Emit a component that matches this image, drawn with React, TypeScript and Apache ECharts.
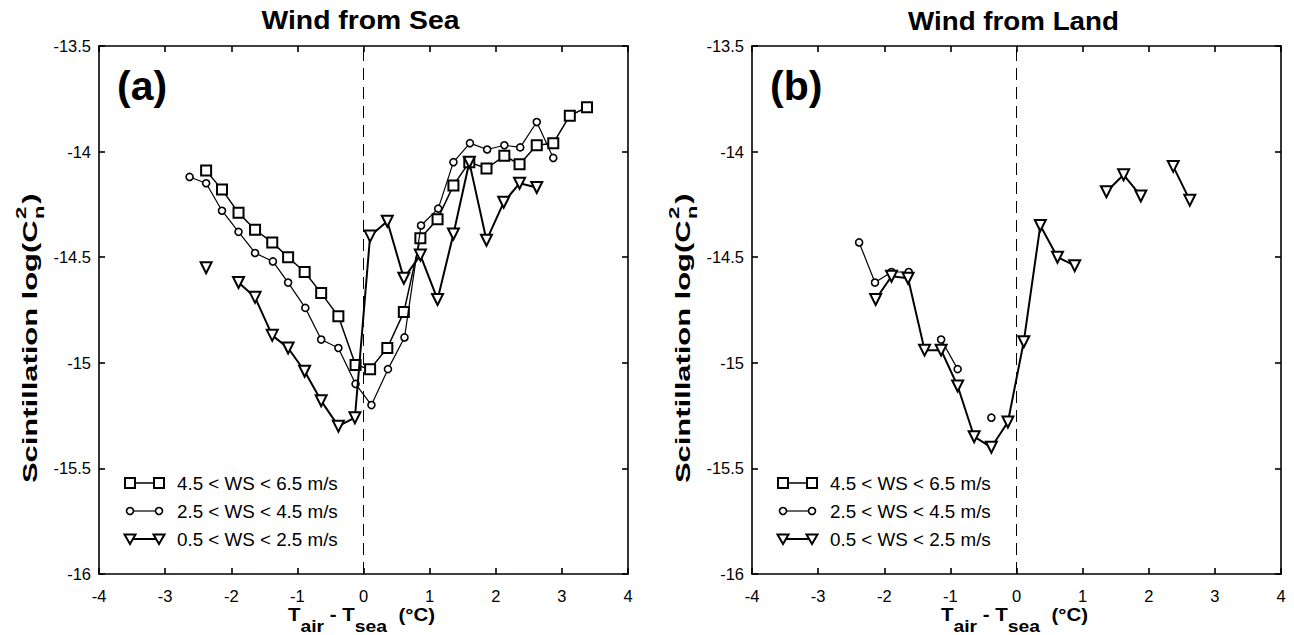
import React, { useEffect, useRef } from "react";
import * as echarts from "echarts";

const FONT = "'Liberation Sans', Arial, Helvetica, sans-serif";

// ---------- data ----------
const panelTitles = ["Wind from Sea", "Wind from Land"];
const panelTags = ["(a)", "(b)"];
const legendLabels = ["4.5 < WS < 6.5 m/s", "2.5 < WS < 4.5 m/s", "0.5 < WS < 2.5 m/s"];
const xRange = [-4, 4];
const yRange = [-16, -13.5];
const zeroLineX = 0;

// (a) Wind from Sea
const seaSquareX = [-2.38, -2.14, -1.89, -1.64, -1.38, -1.14, -0.89, -0.64, -0.38, -0.12, 0.1, 0.36, 0.61, 0.86, 1.12, 1.36, 1.6, 1.86, 2.13, 2.36, 2.62, 2.87, 3.12, 3.38];
const seaSquareY = [-14.09, -14.18, -14.29, -14.37, -14.43, -14.5, -14.57, -14.67, -14.78, -15.01, -15.03, -14.93, -14.76, -14.41, -14.32, -14.16, -14.05, -14.08, -14.02, -14.06, -13.97, -13.96, -13.83, -13.79];

const seaCircleX = [-2.63, -2.38, -2.14, -1.89, -1.64, -1.37, -1.14, -0.88, -0.64, -0.38, -0.12, 0.12, 0.37, 0.62, 0.87, 1.13, 1.36, 1.61, 1.87, 2.13, 2.37, 2.62, 2.87];
const seaCircleY = [-14.12, -14.15, -14.28, -14.38, -14.48, -14.52, -14.62, -14.74, -14.89, -14.93, -15.1, -15.2, -15.03, -14.88, -14.35, -14.27, -14.05, -13.96, -13.99, -13.97, -13.98, -13.86, -14.03];

const seaTriangleX = [-2.38, -2.13, -1.89, -1.64, -1.38, -1.14, -0.89, -0.64, -0.38, -0.13, 0.1, 0.36, 0.61, 0.86, 1.12, 1.36, 1.6, 1.86, 2.12, 2.36, 2.62];
const seaTriangleY = [-14.55, null, -14.62, -14.69, -14.87, -14.93, -15.04, -15.18, -15.3, -15.26, -14.4, -14.33, -14.6, -14.49, -14.7, -14.39, -14.05, -14.42, -14.24, -14.15, -14.17];

// (b) Wind from Land
const landSquareX: number[] = [];
const landSquareY: number[] = [];

const landCircleX = [-2.38, -2.14, -1.89, -1.63, -1.39, -1.14, -0.89, -0.64, -0.38];
const landCircleY = [-14.43, -14.62, -14.57, -14.57, null, -14.89, -15.03, null, -15.26];

const landTriangleX = [-2.13, -1.89, -1.64, -1.39, -1.14, -0.89, -0.64, -0.38, -0.13, 0.11, 0.36, 0.62, 0.88, 1.12, 1.36, 1.62, 1.88, 2.12, 2.37, 2.62];
const landTriangleY = [-14.7, -14.59, -14.6, -14.94, -14.94, -15.11, -15.35, -15.4, -15.28, -14.9, -14.35, -14.5, -14.54, null, -14.19, -14.11, -14.21, null, -14.07, -14.23];

// ---------- layout ----------
const GRIDS = [
  { left: 99, top: 46, width: 529, height: 528 },
  { left: 752, top: 46, width: 529, height: 528 },
];

const SYMBOLS = [
  { symbol: "rect", size: 10, rotate: 0, lineWidth: 1.5, border: 2 },
  { symbol: "circle", size: 7, rotate: 0, lineWidth: 1.2, border: 1.6 },
  { symbol: "triangle", size: 11, rotate: 180, lineWidth: 2, border: 2 },
];

function pairs(xs: number[], ys: (number | null)[]) {
  return xs.map((x, i) => [x, ys[i] == null ? "-" : ys[i]]);
}

let measureCtx: CanvasRenderingContext2D | null = null;
function measure(text: string, size: number, weight: string) {
  if (!measureCtx) measureCtx = document.createElement("canvas").getContext("2d");
  measureCtx!.font = `${weight} ${size}px ${FONT}`;
  return measureCtx!.measureText(text).width;
}

function txt(x: number, y: number, text: string, size: number, weight: string, align = "left", extra: any = {}) {
  return {
    type: "text",
    x,
    y,
    ...extra,
    style: {
      text,
      fontSize: size,
      fontWeight: weight,
      fontFamily: FONT,
      fill: "#000",
      align,
      verticalAlign: "middle",
    },
  };
}

function xNameGraphic(cx: number, cy: number) {
  const M = 18, S = 17, W = "bold";
  const parts = [
    { t: "T", sub: false },
    { t: "air", sub: true },
    { t: " - T", sub: false },
    { t: "sea", sub: true },
    { t: "  (\u00B0C)", sub: false },
  ];
  const widths = parts.map((p) => measure(p.t, p.sub ? S : M, W));
  const total = widths.reduce((a, b) => a + b, 0);
  const sx = 147 / total;
  let x = -total / 2;
  const children: any[] = [];
  parts.forEach((p, i) => {
    children.push(txt(x, p.sub ? 11 : 0, p.t, p.sub ? S : M, W));
    x += widths[i];
  });
  return { type: "group", x: cx, y: cy, scaleX: sx, children };
}

function yNameGraphic(cx: number, cy: number) {
  const M = 21, S = 15, W = "bold";
  const main = "Scintillation log(C";
  const wMain = measure(main, M, W);
  const wSup = measure("2", S, W);
  const wClose = measure(")", M, W);
  const total = wMain + wSup + 2 + wClose;
  const sx = 288 / total;
  const x0 = -total / 2;
  const children = [
    txt(x0, 0, main, M, W),
    txt(x0 + wMain + 1, -9, "2", S, W),
    txt(x0 + wMain + 1, 9, "n", S, W),
    txt(x0 + wMain + wSup + 3, 0, ")", M, W),
  ];
  return { type: "group", x: cx, y: cy, rotation: Math.PI / 2, scaleX: sx, children };
}

function titleGraphic(cx: number, cy: number, text: string, targetWidth: number) {
  const size = 25;
  const w = measure(text, size, "bold");
  return txt(cx, cy, text, size, "bold", "center", { scaleX: targetWidth / w });
}

function legendGraphic(x0: number, y0: number) {
  const out: any[] = [];
  const xa = x0, xb = x0 + 29, xt = x0 + 47;
  legendLabels.forEach((label, i) => {
    const y = y0 + i * 28;
    const sym = SYMBOLS[i];
    out.push({
      type: "line",
      shape: { x1: xa, y1: y, x2: xb, y2: y },
      style: { stroke: "#000", lineWidth: sym.lineWidth },
    });
    [xa, xb].forEach((cx) => {
      const st = { fill: "#fff", stroke: "#000", lineWidth: sym.border };
      if (sym.symbol === "rect")
        out.push({ type: "rect", shape: { x: cx - 5, y: y - 5, width: 10, height: 10 }, style: st });
      else if (sym.symbol === "circle")
        out.push({ type: "circle", shape: { cx, cy: y, r: 3.5 }, style: st });
      else
        out.push({
          type: "polygon",
          shape: { points: [[cx - 5.5, y - 4.5], [cx + 5.5, y - 4.5], [cx, y + 5]] },
          style: st,
        });
    });
    out.push(txt(xt, y, label, 18.8, "normal"));
  });
  return out;
}

export default function App() {
  const ref = useRef<HTMLDivElement>(null);

  useEffect(() => {
    if (!ref.current) return;
    const chart = echarts.init(ref.current, null, { renderer: "svg" });

    const axisLine = { show: true, onZero: false, lineStyle: { color: "#000", width: 1.6 } };
    const axisTick = { show: true, inside: true, length: 6, lineStyle: { color: "#000", width: 1.6 } };
    const labelStyle = { color: "#000", fontSize: 16.5, fontFamily: FONT };

    const xAxis: any[] = [];
    const yAxis: any[] = [];
    GRIDS.forEach((_, g) => {
      xAxis.push({
        type: "value", gridIndex: g, position: "bottom", min: xRange[0], max: xRange[1], interval: 1,
        axisLine, axisTick, splitLine: { show: false },
        axisLabel: { ...labelStyle, margin: 13 },
      });
      xAxis.push({
        type: "value", gridIndex: g, position: "top", min: xRange[0], max: xRange[1], interval: 1,
        axisLine, axisTick, splitLine: { show: false }, axisLabel: { show: false },
      });
      yAxis.push({
        type: "value", gridIndex: g, position: "left", min: yRange[0], max: yRange[1], interval: 0.5,
        axisLine, axisTick, splitLine: { show: false },
        axisLabel: { ...labelStyle, margin: 8, formatter: (v: number) => String(v) },
      });
      yAxis.push({
        type: "value", gridIndex: g, position: "right", min: yRange[0], max: yRange[1], interval: 0.5,
        axisLine, axisTick, splitLine: { show: false }, axisLabel: { show: false },
      });
    });

    const panels = [
      [pairs(seaSquareX, seaSquareY), pairs(seaCircleX, seaCircleY), pairs(seaTriangleX, seaTriangleY)],
      [pairs(landSquareX, landSquareY), pairs(landCircleX, landCircleY), pairs(landTriangleX, landTriangleY)],
    ];

    const series: any[] = [];
    panels.forEach((sets, g) => {
      [2, 1, 0].forEach((k) => {
        const sym = SYMBOLS[k];
        series.push({
          type: "line",
          name: legendLabels[k] + g,
          xAxisIndex: g * 2,
          yAxisIndex: g * 2,
          data: sets[k],
          connectNulls: false,
          symbol: sym.symbol,
          symbolSize: sym.size,
          symbolRotate: sym.rotate,
          showSymbol: true,
          lineStyle: { color: "#000", width: sym.lineWidth },
          itemStyle: { color: "#fff", borderColor: "#000", borderWidth: sym.border },
          z: 3 + k,
          silent: true,
          markLine:
            k === 0
              ? {
                  silent: true,
                  symbol: ["none", "none"],
                  label: { show: false },
                  lineStyle: { color: "#000", width: 1, type: [12, 7] },
                  emphasis: { disabled: true },
                  data: [{ xAxis: zeroLineX }],
                }
              : undefined,
        });
      });
    });

    const titleWidths = [198, 211];
    const graphic: any[] = [];
    GRIDS.forEach((gr, g) => {
      const cx = gr.left + gr.width / 2;
      graphic.push(titleGraphic(cx - 3, 21, panelTitles[g], titleWidths[g]));
      graphic.push(txt(gr.left + 18, 86, panelTags[g], 41, "bold"));
      graphic.push(xNameGraphic(cx - 2, 615));
      graphic.push(yNameGraphic(gr.left - 69, 339));
      graphic.push(...legendGraphic(gr.left + 31, 483));
    });

    chart.setOption({
      animation: false,
      backgroundColor: "#fff",
      grid: GRIDS.map((g) => ({ ...g, containLabel: false })),
      xAxis,
      yAxis,
      series,
      graphic,
    });

    return () => chart.dispose();
  }, []);

  return (
    <div
      ref={ref}
      style={{ position: "fixed", left: 0, top: 0, width: 1294, height: 635, background: "#fff" }}
    />
  );
}
